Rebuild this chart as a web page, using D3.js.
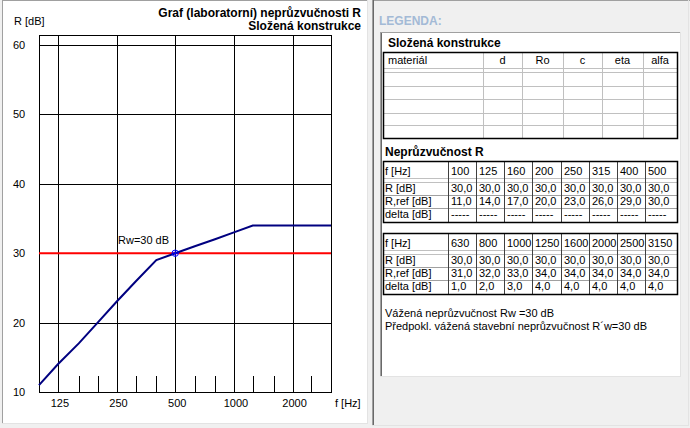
<!DOCTYPE html>
<html>
<head>
<meta charset="utf-8">
<script src="https://cdn.jsdelivr.net/npm/d3@7"></script>
<style>
  html, body { margin: 0; padding: 0; background: #f0f0f0; }
  svg { display: block; }
  text { font-family: "Liberation Sans", Arial, sans-serif; }
</style>
</head>
<body>
<svg id="chart" width="690" height="428"></svg>
<script>
// ---- data ----
const freqs = [100, 125, 160, 200, 250, 315, 400, 500, 630, 800, 1000, 1250, 1600, 2000, 2500, 3150];
const rMeasured = [30, 30, 30, 30, 30, 30, 30, 30, 30, 30, 30, 30, 30, 30, 30, 30];
const rRef = [11, 14, 17, 20, 23, 26, 29, 30, 31, 32, 33, 34, 34, 34, 34, 34];
const deltaVals = [null, null, null, null, null, null, null, null, 1, 2, 3, 4, 4, 4, 4, 4];
const yTicks = [10, 20, 30, 40, 50, 60];
const xLabelFreqs = [125, 250, 500, 1000, 2000];
const minorFreqs = [160, 200, 315, 400, 630, 800, 1250, 1600, 2500];
const rw = 30;
const materialCols = ["materiál", "d", "Ro", "c", "eta", "alfa"];
const rowLabels = ["f [Hz]", "R [dB]", "R,ref [dB]", "delta [dB]"];
const chartTitle = ["Graf (laboratorní) neprůzvučnosti R", "Složená konstrukce"];
const summaryLines = ["Vážená neprůzvučnost Rw =30 dB", "Předpokl. vážená stavební neprůzvučnost R´w=30 dB"];

const fmt = v => v == null ? "-----" : v.toFixed(1).replace(".", ",");

const svg = d3.select("#chart");

// ---- window frames ----
svg.append("rect").attr("x", 0).attr("y", 0).attr("width", 690).attr("height", 428).attr("fill", "#f0f0f0");
// left panel
svg.append("rect").attr("x", 2).attr("y", 0).attr("width", 366).attr("height", 424).attr("fill", "#ffffff");
svg.append("line").attr("x1", 2).attr("x2", 368).attr("y1", 0.5).attr("y2", 0.5).attr("stroke", "#a0a0a0");
svg.append("line").attr("x1", 2.5).attr("x2", 2.5).attr("y1", 0).attr("y2", 424).attr("stroke", "#a0a0a0");
svg.append("line").attr("x1", 367.5).attr("x2", 367.5).attr("y1", 0).attr("y2", 424).attr("stroke", "#e3e3e3");
svg.append("line").attr("x1", 2).attr("x2", 368).attr("y1", 423.5).attr("y2", 423.5).attr("stroke", "#e3e3e3");
// right panel
svg.append("line").attr("x1", 372).attr("x2", 690).attr("y1", 0.5).attr("y2", 0.5).attr("stroke", "#a0a0a0");
svg.append("line").attr("x1", 372.5).attr("x2", 372.5).attr("y1", 0).attr("y2", 426).attr("stroke", "#a0a0a0");
svg.append("line").attr("x1", 373.5).attr("x2", 373.5).attr("y1", 0).attr("y2", 426).attr("stroke", "#696969");
svg.append("line").attr("x1", 688.5).attr("x2", 688.5).attr("y1", 0).attr("y2", 426).attr("stroke", "#e3e3e3");
svg.append("line").attr("x1", 372).attr("x2", 689).attr("y1", 425.5).attr("y2", 425.5).attr("stroke", "#e3e3e3");

// ---- chart ----
const x = d3.scaleLog().domain([100, 3150]).range([39, 331]);
const y = d3.scaleLinear().domain([10, 60]).range([392, 45]);
const plotTop = 35, plotBottom = 392;

const g = svg.append("g");

// horizontal grid
g.selectAll(".hgrid").data(yTicks.filter(v => v !== 10)).join("line")
  .attr("x1", x(100)).attr("x2", x(3150))
  .attr("y1", d => Math.round(y(d)) + 0.5).attr("y2", d => Math.round(y(d)) + 0.5)
  .attr("stroke", "#000");
// vertical grid at labelled freqs
g.selectAll(".vgrid").data(xLabelFreqs).join("line")
  .attr("x1", d => Math.round(x(d)) + 0.5).attr("x2", d => Math.round(x(d)) + 0.5)
  .attr("y1", plotTop).attr("y2", plotBottom)
  .attr("stroke", "#000");
// minor ticks
g.selectAll(".minor").data(minorFreqs).join("line")
  .attr("x1", d => Math.round(x(d)) + 0.5).attr("x2", d => Math.round(x(d)) + 0.5)
  .attr("y1", plotBottom - 16).attr("y2", plotBottom)
  .attr("stroke", "#000");
// frame
g.append("rect").attr("x", x(100) + 0.5).attr("y", plotTop + 0.5)
  .attr("width", x(3150) - x(100)).attr("height", plotBottom - plotTop)
  .attr("fill", "none").attr("stroke", "#000");

// red Rw line
g.append("line").attr("x1", x(100)).attr("x2", x(3150))
  .attr("y1", y(rw)).attr("y2", y(rw)).attr("stroke", "#ff0000").attr("stroke-width", 2);

// blue reference curve
const line = d3.line().x((d, i) => x(freqs[i])).y(d => y(d));
g.append("path").attr("d", line(rRef)).attr("fill", "none")
  .attr("stroke", "#000080").attr("stroke-width", 2);

// marker at 500 Hz
const mx = x(500), my = y(rw);
g.append("circle").attr("cx", mx).attr("cy", my).attr("r", 3.2)
  .attr("fill", "none").attr("stroke", "#0000ff").attr("stroke-width", 1);
g.append("line").attr("x1", mx - 3).attr("x2", mx + 3).attr("y1", my).attr("y2", my).attr("stroke", "#0000ff");
g.append("line").attr("x1", mx).attr("x2", mx).attr("y1", my - 3).attr("y2", my + 3).attr("stroke", "#0000ff");

g.append("text").attr("x", 118).attr("y", y(rw) - 9).attr("font-size", "11px").text("Rw=" + rw + " dB");

// y labels
g.selectAll(".ylab").data(yTicks).join("text")
  .attr("x", 13).attr("y", d => y(d) + 4).attr("font-size", "11px").text(d => d);
// x labels
g.selectAll(".xlab").data(xLabelFreqs).join("text")
  .attr("x", d => x(d) + 2).attr("y", 407).attr("text-anchor", "middle").attr("font-size", "11px").text(d => d);
g.append("text").attr("x", 335).attr("y", 407).attr("font-size", "11px").text("f [Hz]");
g.append("text").attr("x", 14).attr("y", 25).attr("font-size", "11px").text("R [dB]");

// title
g.selectAll(".title").data(chartTitle).join("text")
  .attr("x", 361).attr("y", (d, i) => 17 + i * 13).attr("text-anchor", "end")
  .attr("font-size", "12px").attr("font-weight", "bold").text(d => d);

// ---- legend ----
svg.append("text").attr("x", 379).attr("y", 25).attr("font-size", "12px").attr("font-weight", "bold")
  .attr("fill", "#a3bad6").text("LEGENDA:");
// legend box
svg.append("rect").attr("x", 380).attr("y", 32).attr("width", 301).attr("height", 345).attr("fill", "#fff");
svg.append("line").attr("x1", 380).attr("x2", 681).attr("y1", 32.5).attr("y2", 32.5).attr("stroke", "#a0a0a0");
svg.append("line").attr("x1", 380.5).attr("x2", 380.5).attr("y1", 32).attr("y2", 377).attr("stroke", "#a0a0a0");
svg.append("line").attr("x1", 381.5).attr("x2", 381.5).attr("y1", 33).attr("y2", 376).attr("stroke", "#696969");
svg.append("line").attr("x1", 680.5).attr("x2", 680.5).attr("y1", 32).attr("y2", 377).attr("stroke", "#e3e3e3");
svg.append("line").attr("x1", 380).attr("x2", 681).attr("y1", 376.5).attr("y2", 376.5).attr("stroke", "#e3e3e3");

svg.append("text").attr("x", 388).attr("y", 47).attr("font-size", "12px").attr("font-weight", "bold").text("Složená konstrukce");

// material table
const mt = svg.append("g");
const mColEdges = [383, 483, 522, 563, 602, 643, 677];
const mRowLines = [68, 72, 86, 99, 113, 125];
mt.selectAll(".mrow").data(mRowLines).join("line")
  .attr("x1", 383).attr("x2", 677).attr("y1", d => d + 0.5).attr("y2", d => d + 0.5).attr("stroke", "#c0c0c0");
mt.selectAll(".mcol").data(mColEdges.slice(1, -1)).join("line")
  .attr("x1", d => d + 0.5).attr("x2", d => d + 0.5).attr("y1", 52).attr("y2", 138).attr("stroke", "#c0c0c0");
mt.append("rect").attr("x", 383.5).attr("y", 52.5).attr("width", 294).attr("height", 86)
  .attr("fill", "none").attr("stroke", "#000").attr("stroke-width", 1.5);
mt.selectAll(".mhead").data(materialCols).join("text")
  .attr("x", (d, i) => i === 0 ? 388 : (mColEdges[i] + mColEdges[i + 1]) / 2)
  .attr("text-anchor", (d, i) => i === 0 ? "start" : "middle")
  .attr("y", 64).attr("font-size", "11px").text(d => d);

svg.append("text").attr("x", 385).attr("y", 156).attr("font-size", "12px").attr("font-weight", "bold").text("Neprůzvučnost R");

// frequency tables
function freqTable(top, idx) {
  const t = svg.append("g");
  const colX = d3.scaleBand().domain(idx).range([448, 673]);
  const left = 383, right = 677;
  const hLines = [top + 17, top + 21, top + 34, top + 47];
  t.selectAll(".hl").data(hLines).join("line")
    .attr("x1", left).attr("x2", right).attr("y1", d => d + 0.5).attr("y2", d => d + 0.5)
    .attr("stroke", (d, i) => i < 2 ? "#c0c0c0" : "#a0a0a0");
  t.selectAll(".vl").data(idx).join("line")
    .attr("x1", d => Math.round(colX(d)) + 0.5).attr("x2", d => Math.round(colX(d)) + 0.5)
    .attr("y1", top).attr("y2", top + 61).attr("stroke", "#404040");
  t.append("rect").attr("x", left + 0.5).attr("y", top + 0.5).attr("width", right - left).attr("height", 61)
    .attr("fill", "none").attr("stroke", "#000").attr("stroke-width", 1.5);
  const baselines = [top + 14, top + 31, top + 44, top + 57];
  t.selectAll(".rl").data(rowLabels).join("text")
    .attr("x", 385).attr("y", (d, i) => baselines[i]).attr("font-size", "11px").text(d => d);
  const rows = [
    idx.map(i => String(freqs[i])),
    idx.map(i => fmt(rMeasured[i])),
    idx.map(i => fmt(rRef[i])),
    idx.map(i => fmt(deltaVals[i]))
  ];
  rows.forEach((r, ri) => {
    t.selectAll(".c" + ri).data(r).join("text")
      .attr("x", (d, j) => Math.round(colX(idx[j])) + 3)
      .attr("y", baselines[ri]).attr("font-size", "11px").text(d => d);
  });
}
freqTable(161, d3.range(0, 8));
freqTable(233, d3.range(8, 16));

svg.selectAll(".summary").data(summaryLines).join("text")
  .attr("x", 385).attr("y", (d, i) => 317 + i * 13).attr("font-size", "11px").text(d => d);
</script>
</body>
</html>
